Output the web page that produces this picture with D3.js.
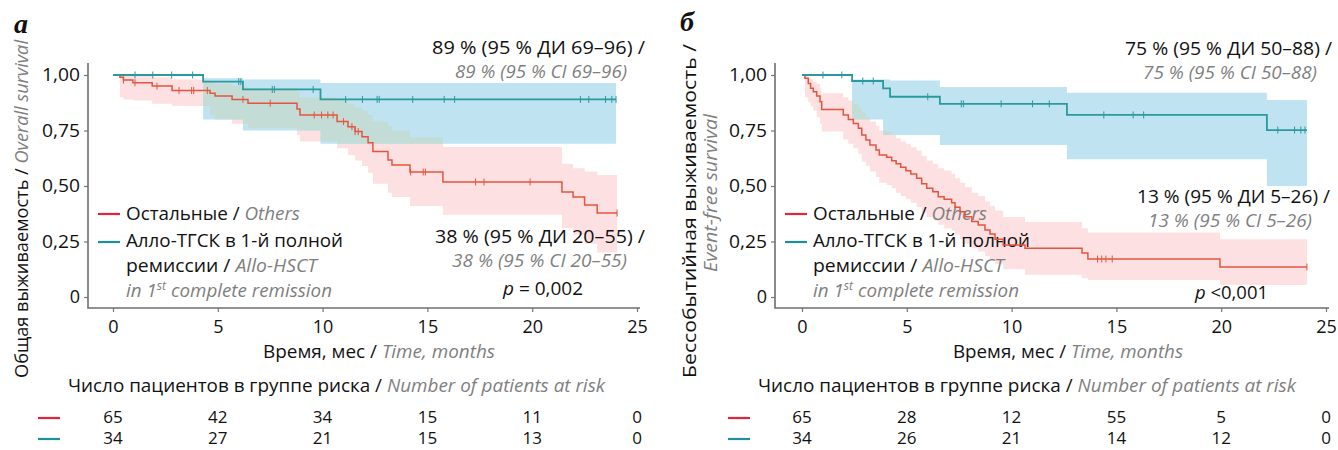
<!DOCTYPE html>
<html>
<head>
<meta charset="utf-8">
<script src="https://cdn.jsdelivr.net/npm/d3@7"></script>
<style>
body { margin: 0; background: #fff; }
svg { font-family: "Open Sans", sans-serif; }
</style>
</head>
<body>
<svg id="chart" width="1338" height="450"></svg>
<script>
// ticks
let xTicks = [0, 5, 10, 15, 20, 25]
let yTicks = [0, 0.25, 0.5, 0.75, 1]

// а: overall survival
let osOthersTime = [0, 0.33, 0.5, 0.95, 1.87, 2.82, 4.63, 4.87, 5.68, 6.44, 8.78, 8.92, 10.69, 11.21, 11.55, 11.88, 12.17, 12.4, 13.12, 13.31, 14.17, 15.74, 21.42, 21.95, 22.5, 23.1]
let osOthersSurv = [1, 0.99, 0.977, 0.965, 0.95, 0.93, 0.918, 0.905, 0.89, 0.873, 0.847, 0.82, 0.79, 0.767, 0.745, 0.722, 0.695, 0.655, 0.617, 0.595, 0.563, 0.518, 0.473, 0.45, 0.414, 0.378]
let osOthersLow = [1, 0.9, 0.89, 0.885, 0.87, 0.86, 0.82, 0.8, 0.78, 0.76, 0.73, 0.7, 0.67, 0.64, 0.615, 0.59, 0.56, 0.51, 0.47, 0.45, 0.41, 0.37, 0.31, 0.28, 0.24, 0.2]
let osOthersHigh = [1, 1, 0.998, 0.995, 0.99, 0.98, 0.97, 0.96, 0.95, 0.94, 0.925, 0.9, 0.885, 0.87, 0.855, 0.84, 0.82, 0.79, 0.77, 0.75, 0.72, 0.676, 0.6, 0.58, 0.565, 0.55]
let osOthersEnd = 24.05
let osOthersCensor = [0.5, 1.05, 2.1, 3.15, 3.75, 3.85, 4.5, 6.2, 7.5, 9.6, 9.95, 10.25, 10.5, 11.0, 11.4, 11.55, 11.7, 14.2, 14.8, 14.9, 17.3, 17.7, 19.9, 24.05]

let osAlloTime = [0, 4.3, 6.2, 9.9]
let osAlloSurv = [1, 0.97, 0.935, 0.89]
let osAlloLow = [1, 0.8, 0.75, 0.69]
let osAlloHigh = [1, 0.985, 0.98, 0.964]
let osAlloEnd = 24.0
let osAlloCensor = [1.05, 1.9, 2.8, 3.8, 6.0, 6.1, 7.6, 7.7, 9.55, 11.1, 11.9, 12.6, 12.7, 14.3, 15.8, 16.3, 22.3, 22.7, 23.5, 23.8, 24.0]

let osRiskOthers = [65, 42, 34, 15, 11, 0]
let osRiskAllo = [34, 27, 21, 15, 13, 0]

// б: event-free survival
let efsOthersTime = [0, 0.14, 0.3, 0.41, 0.54, 0.7, 0.86, 0.94, 1.97, 2.21, 2.45, 2.69, 2.85, 3.05, 3.24, 3.53, 3.69, 4.04, 4.28, 4.49, 4.71, 4.96, 5.19, 5.47, 5.71, 5.95, 6.24, 6.5, 6.78, 7.14, 7.3, 7.54, 7.78, 8.1, 8.41, 8.73, 8.97, 9.21, 9.6, 10.64, 13.36, 13.64, 19.94]
let efsOthersSurv = [1, 0.985, 0.962, 0.94, 0.925, 0.905, 0.88, 0.845, 0.82, 0.8, 0.782, 0.76, 0.73, 0.707, 0.685, 0.662, 0.64, 0.63, 0.614, 0.6, 0.584, 0.569, 0.554, 0.535, 0.51, 0.49, 0.474, 0.452, 0.44, 0.425, 0.404, 0.384, 0.362, 0.34, 0.324, 0.302, 0.284, 0.26, 0.234, 0.22, 0.198, 0.171, 0.135]
let efsOthersLow = [1, 0.9, 0.88, 0.86, 0.84, 0.81, 0.78, 0.745, 0.71, 0.69, 0.67, 0.645, 0.61, 0.59, 0.565, 0.54, 0.515, 0.505, 0.49, 0.47, 0.455, 0.44, 0.425, 0.405, 0.38, 0.36, 0.345, 0.325, 0.31, 0.3, 0.28, 0.26, 0.24, 0.22, 0.205, 0.185, 0.17, 0.15, 0.125, 0.1, 0.085, 0.077, 0.054]
let efsOthersHigh = [1, 1, 0.99, 0.98, 0.97, 0.96, 0.94, 0.918, 0.9, 0.885, 0.87, 0.855, 0.83, 0.81, 0.79, 0.77, 0.75, 0.745, 0.73, 0.715, 0.7, 0.69, 0.675, 0.66, 0.635, 0.615, 0.6, 0.58, 0.57, 0.555, 0.535, 0.515, 0.495, 0.47, 0.455, 0.43, 0.41, 0.39, 0.36, 0.338, 0.31, 0.29, 0.26]
let efsOthersEnd = 24.09
let efsOthersCensor = [14.1, 14.3, 14.5, 14.8, 24.09]

let efsAlloTime = [0, 2.39, 3.87, 4.2, 6.58, 12.64, 22.18]
let efsAlloSurv = [1, 0.973, 0.94, 0.902, 0.87, 0.82, 0.752]
let efsAlloLow = [1, 0.8, 0.73, 0.73, 0.685, 0.62, 0.5]
let efsAlloHigh = [1, 0.98, 0.98, 0.975, 0.946, 0.92, 0.887]
let efsAlloEnd = 24.09
let efsAlloCensor = [1.0, 1.9, 2.9, 3.4, 6.0, 7.6, 7.7, 9.5, 11.0, 11.8, 14.4, 15.8, 16.3, 22.7, 23.5, 23.8, 24.0]

let efsRiskOthers = [65, 28, 12, 55, 5, 0]
let efsRiskAllo = [34, 26, 21, 14, 12, 0]

let othersColor = '#e4553f', alloColor = '#2a9a9e'
let othersDash = '#e3243a', alloDash = '#1f8f9b'
let gray = '#7f7f7f'

const panels = [
    {
        letter: 'а', letterX: 14, letterY: 33, axisX: 88, axisTop: 63, axisRight: 640, xRange: [113, 637],
        others: {time: osOthersTime, surv: osOthersSurv, low: osOthersLow, high: osOthersHigh, end: osOthersEnd, censor: osOthersCensor},
        allo: {time: osAlloTime, surv: osAlloSurv, low: osAlloLow, high: osAlloHigh, end: osAlloEnd, censor: osAlloCensor},
        risk: [osRiskOthers, osRiskAllo], dashX: 38, headerX: 68, headerLen: 537,
        legendX: 98,
        yTitle: [{x: 20, y: 209, len: 338, parts: [{t: 'Общая выживаемость / '}, {t: 'Overall survival', gray: true}]}],
        xTitle: {x: 263, len: 232},
        notes: [
            {x: 645, y: 54, len: 213, parts: [{t: '89 % (95 % ДИ 69–96) /'}]},
            {x: 627, y: 78, len: 172, parts: [{t: '89 % (95 % CI 69–96)', gray: true}]},
            {x: 645, y: 243, len: 210, parts: [{t: '38 % (95 % ДИ 20–55) /'}]},
            {x: 627, y: 267, len: 175, parts: [{t: '38 % (95 % CI 20–55)', gray: true}]},
            {x: 583, y: 295, len: 80, parts: [{t: 'p', it: true}, {t: ' = 0,002'}]}
        ]
    },
    {
        letter: 'б', letterX: 680, letterY: 31, axisX: 775, axisTop: 63, axisRight: 1329, xRange: [802, 1326],
        others: {time: efsOthersTime, surv: efsOthersSurv, low: efsOthersLow, high: efsOthersHigh, end: efsOthersEnd, censor: efsOthersCensor},
        allo: {time: efsAlloTime, surv: efsAlloSurv, low: efsAlloLow, high: efsAlloHigh, end: efsAlloEnd, censor: efsAlloCensor},
        risk: [efsRiskOthers, efsRiskAllo], dashX: 728, headerX: 758, headerLen: 538,
        legendX: 785,
        yTitle: [
            {x: 688, y: 211, len: 334, parts: [{t: 'Бессобытийная выживаемость /'}]},
            {x: 709, y: 193, len: 158, parts: [{t: 'Event-free survival', gray: true}]}
        ],
        xTitle: {x: 953, len: 230},
        notes: [
            {x: 1332, y: 55, len: 207, parts: [{t: '75 % (95 % ДИ 50–88) /'}]},
            {x: 1317, y: 79, len: 174, parts: [{t: '75 % (95 % CI 50–88)', gray: true}]},
            {x: 1330, y: 203, len: 193, parts: [{t: '13 % (95 % ДИ 5–26) /'}]},
            {x: 1312, y: 227, len: 164, parts: [{t: '13 % (95 % CI 5–26)', gray: true}]},
            {x: 1268, y: 299, len: 73, parts: [{t: 'p', it: true}, {t: ' <0,001'}]}
        ]
    }
]

const svg = d3.select('#chart')

function addText(g, o) {
    let t = g.append('text')
        .attr('x', o.x).attr('y', o.y)
        .attr('text-anchor', o.anchor || 'start')
        .style('font-size', (o.size || 18.5) + 'px')
        .attr('fill', '#111')
    o.parts.forEach(p => {
        let s = t.append('tspan').text(p.t)
        if (p.gray) s.attr('fill', gray).style('font-style', 'italic')
        if (p.it) s.style('font-style', 'italic')
        if (p.sup) s.attr('dy', -7).style('font-size', '12px')
        if (p.unsup) s.attr('dy', 7)
    })
    if (o.len) t.attr('textLength', o.len).attr('lengthAdjust', 'spacingAndGlyphs')
    return t
}

function points(c) {
    let pts = c.time.map((t, i) => ({t: t, s: c.surv[i], lo: c.low[i], hi: c.high[i]}))
    let last = pts[pts.length - 1]
    pts.push({t: c.end, s: last.s, lo: last.lo, hi: last.hi})
    return pts
}

function survAt(c, t) {
    let i = d3.bisectRight(c.time, t) - 1
    return c.surv[Math.max(i, 0)]
}

panels.forEach((p, pi) => {
    let g = svg.append('g')
    let x = d3.scaleLinear().domain([0, 25]).range(p.xRange)
    let y = d3.scaleLinear().domain([0, 1]).range([297, 75])
    let baseY = 308

    let line = d3.line().curve(d3.curveStepAfter).x(d => x(d.t)).y(d => y(d.s))
    let area = d3.area().curve(d3.curveStepAfter).x(d => x(d.t)).y0(d => y(d.lo)).y1(d => y(d.hi))

    let othersPts = points(p.others), alloPts = points(p.allo)

    // confidence bands
    g.append('path').attr('d', area(othersPts)).attr('fill', '#fde0e2')
    g.append('path').attr('d', area(alloPts)).attr('fill', '#bfe3f1')
    g.append('clipPath').attr('id', 'clip' + pi)
        .append('path').attr('d', area(alloPts))
    g.append('path').attr('d', area(othersPts)).attr('fill', '#c3ddd6')
        .attr('clip-path', 'url(#clip' + pi + ')')

    // axes
    let yAxis = g.append('g').attr('transform', `translate(${p.axisX},0)`)
        .call(d3.axisLeft(y).tickValues(yTicks).tickSize(4).tickPadding(4)
            .tickFormat(d => d === 0 ? '0' : d3.format('.2f')(d).replace('.', ',')))
    let xAxis = g.append('g').attr('transform', `translate(0,${baseY})`)
        .call(d3.axisBottom(x).tickValues(xTicks).tickSize(4).tickPadding(8))
    ;[yAxis, xAxis].forEach(a => {
        a.select('.domain').remove()
        a.selectAll('line').attr('stroke', '#777').attr('stroke-width', 1.2)
        a.selectAll('text').attr('fill', '#111').style('font-size', '18px').style('font-family', '"Open Sans", sans-serif')
    })
    yAxis.selectAll('text').attr('textLength', d => d === 0 ? null : 38).attr('lengthAdjust', 'spacingAndGlyphs')
    g.append('path')
        .attr('d', `M${p.axisX},${p.axisTop}V${baseY}H${p.axisRight}`)
        .attr('fill', 'none').attr('stroke', '#6e6e6e').attr('stroke-width', 1.6)

    // legend
    let lx = p.legendX
    g.append('line').attr('x1', lx).attr('x2', lx + 22).attr('y1', 214).attr('y2', 214)
        .attr('stroke', othersDash).attr('stroke-width', 2.2)
    g.append('line').attr('x1', lx).attr('x2', lx + 22).attr('y1', 242).attr('y2', 242)
        .attr('stroke', alloDash).attr('stroke-width', 2.2)
    addText(g, {x: lx + 28, y: 220, len: 174, parts: [{t: 'Остальные / '}, {t: 'Others', gray: true}]})
    addText(g, {x: lx + 28, y: 247, len: 217, parts: [{t: 'Алло-ТГСК в 1-й полной'}]})
    addText(g, {x: lx + 28, y: 272, len: 191, parts: [{t: 'ремиссии / '}, {t: 'Allo-HSCT', gray: true}]})
    addText(g, {x: lx + 28, y: 297, len: 206, parts: [{t: 'in 1', gray: true}, {t: 'st', gray: true, sup: true}, {t: ' complete remission', gray: true, unsup: true}]})

    // survival curves
    ;[[p.others, othersPts, othersColor, 1.5], [p.allo, alloPts, alloColor, 1.8]].forEach(([c, pts, col, w]) => {
        g.append('path').attr('d', line(pts)).attr('fill', 'none').attr('stroke', col).attr('stroke-width', w)
        g.selectAll(null).data(c.censor).enter().append('line')
            .attr('x1', d => x(d)).attr('x2', d => x(d))
            .attr('y1', d => y(survAt(c, d)) - 3.5).attr('y2', d => y(survAt(c, d)) + 3.5)
            .attr('stroke', col).attr('stroke-width', 1)
    })

    // annotations
    p.notes.forEach(n => addText(g, Object.assign({anchor: 'end'}, n)))

    // panel letter
    g.append('text').attr('x', p.letterX).attr('y', p.letterY).text(p.letter)
        .style('font-family', '"Liberation Serif", "DejaVu Serif", serif')
        .style('font-weight', 'bold').style('font-style', 'italic').style('font-size', '28px')
        .attr('fill', '#111')

    // axis titles
    p.yTitle.forEach(t => {
        let tt = addText(g, {x: 0, y: 0, anchor: 'middle', len: t.len, parts: t.parts})
        tt.attr('transform', `translate(${t.x},${t.y}) rotate(-90)`).attr('dominant-baseline', 'central')
    })
    addText(g, {x: p.xTitle.x, y: 358, len: p.xTitle.len, parts: [{t: 'Время, мес / '}, {t: 'Time, months', gray: true}]})

    // number at risk
    addText(g, {x: p.headerX, y: 392, len: p.headerLen, parts: [{t: 'Число пациентов в группе риска / '}, {t: 'Number of patients at risk', gray: true}]})
    ;[[p.risk[0], othersDash, 423], [p.risk[1], alloDash, 444]].forEach(([row, col, ry]) => {
        g.append('line').attr('x1', p.dashX).attr('x2', p.dashX + 22).attr('y1', ry - 5).attr('y2', ry - 5)
            .attr('stroke', col).attr('stroke-width', 2.2)
        g.selectAll(null).data(row).enter().append('text')
            .attr('x', (d, i) => x(xTicks[i])).attr('y', ry)
            .attr('text-anchor', 'middle').style('font-size', '17px').attr('fill', '#111')
            .text(d => d)
    })
})
</script>
</body>
</html>
